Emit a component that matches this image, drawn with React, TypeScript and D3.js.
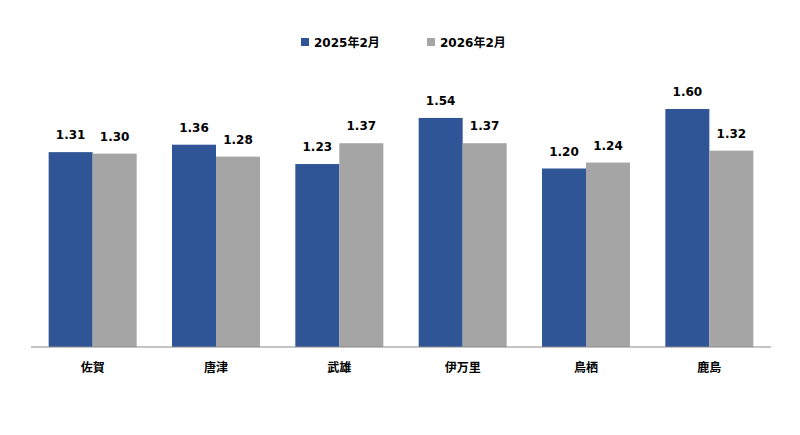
import React from "react";
import * as d3 from "d3";

const categories = ["佐賀", "唐津", "武雄", "伊万里", "鳥栖", "鹿島"];
const seriesNames = ["2025年2月", "2026年2月"];
const values2025 = [1.31, 1.36, 1.23, 1.54, 1.2, 1.6];
const values2026 = [1.3, 1.28, 1.37, 1.37, 1.24, 1.32];
const colors = ["#2F5597", "#A5A5A5"];

const W = 800;
const H = 435;
const FONT = "'DejaVu Sans', 'Noto Sans CJK JP', sans-serif";

export default function App() {
  const x = d3
    .scaleBand<string>()
    .domain(categories)
    .range([31, 771])
    .paddingInner(0.2865)
    .paddingOuter(0.1432);
  const xs = d3
    .scaleBand<string>()
    .domain(seriesNames)
    .range([0, x.bandwidth()]);
  const y = d3.scaleLinear().domain([0, 2]).range([347, 49.5]);
  const series = [values2025, values2026];

  return (
    <svg
      width={W}
      height={H}
      style={{ position: "absolute", left: 0, top: 0, background: "#fff" }}
      fontFamily={FONT}
    >
      <rect x={0} y={0} width={W} height={H} fill="#fff" />
      {/* legend */}
      {seriesNames.map((s, i) => {
        const lx = [301, 427][i];
        return (
          <g key={s}>
            <rect x={lx} y={38} width={8} height={8} fill={colors[i]} />
            <text
              x={lx + 13}
              y={46.5}
              fontSize={12}
              fontWeight="bold"
              fill="#000"
            >
              {s}
            </text>
          </g>
        );
      })}
      {/* bars */}
      {categories.map((c, ci) => (
        <g key={c} transform={`translate(${x(c)},0)`}>
          {series.map((vals, si) => {
            const v = vals[ci];
            const bx = xs(seriesNames[si])!;
            return (
              <g key={si}>
                <rect
                  x={bx}
                  y={y(v)}
                  width={xs.bandwidth()}
                  height={y(0) - y(v)}
                  fill={colors[si]}
                />
                <text
                  x={bx + xs.bandwidth() / 2}
                  y={y(v) - 13}
                  textAnchor="middle"
                  fontSize={12}
                  fontWeight="bold"
                  fill="#000"
                >
                  {v.toFixed(2)}
                </text>
              </g>
            );
          })}
          <text
            x={x.bandwidth() / 2}
            y={372}
            textAnchor="middle"
            fontSize={12}
            fontWeight="bold"
            fill="#000"
          >
            {c}
          </text>
        </g>
      ))}
      {/* axis line */}
      <line x1={31} x2={771} y1={347} y2={347} stroke="#898989" strokeWidth={1} />
    </svg>
  );
}
